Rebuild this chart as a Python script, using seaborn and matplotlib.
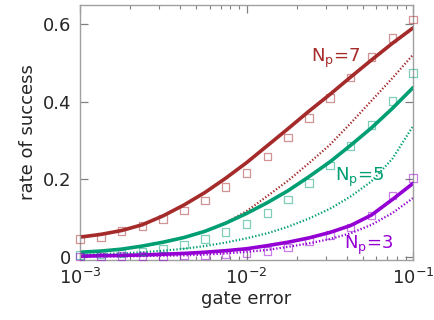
import numpy as np
import pandas as pd
import matplotlib
matplotlib.use("Agg")
import matplotlib.pyplot as plt
import seaborn as sns
from matplotlib.ticker import LogLocator, NullFormatter

# gate error: 17 log-spaced samples from 1e-3 to 1e-1
gate_error = [1.0e-3, 1.334e-3, 1.778e-3, 2.371e-3, 3.162e-3, 4.217e-3, 5.623e-3, 7.499e-3,
              1.0e-2, 1.334e-2, 1.778e-2, 2.371e-2, 3.162e-2, 4.217e-2, 5.623e-2, 7.499e-2, 1.0e-1]

# N_p = 7
sim7 = [0.046, 0.052, 0.067, 0.079, 0.098, 0.120, 0.146, 0.180, 0.217, 0.259, 0.308, 0.358,
        0.410, 0.463, 0.515, 0.565, 0.612]
fit7 = [0.051, 0.058, 0.068, 0.083, 0.106, 0.134, 0.166, 0.203, 0.243, 0.287, 0.331, 0.376,
        0.419, 0.464, 0.508, 0.551, 0.591]
alt7 = [0.012, 0.015, 0.020, 0.028, 0.038, 0.050, 0.066, 0.088, 0.118, 0.157, 0.197, 0.242,
        0.289, 0.345, 0.403, 0.461, 0.522]

# N_p = 5
sim5 = [0.005, 0.006, 0.009, 0.014, 0.022, 0.032, 0.046, 0.064, 0.085, 0.113, 0.148, 0.190,
        0.236, 0.286, 0.340, 0.402, 0.474]
fit5 = [0.012, 0.015, 0.020, 0.028, 0.038, 0.050, 0.066, 0.087, 0.112, 0.140, 0.171, 0.207,
        0.245, 0.288, 0.333, 0.383, 0.437]
alt5 = [0.005, 0.007, 0.009, 0.012, 0.016, 0.021, 0.028, 0.037, 0.048, 0.061, 0.078, 0.099,
        0.124, 0.156, 0.195, 0.253, 0.338]

# N_p = 3
sim3 = [0.001, 0.001, 0.002, 0.002, 0.003, 0.004, 0.005, 0.006, 0.009, 0.016, 0.024, 0.041,
        0.057, 0.076, 0.107, 0.158, 0.203]
fit3 = [0.002, 0.003, 0.004, 0.005, 0.007, 0.009, 0.012, 0.016, 0.021, 0.029, 0.038, 0.049,
        0.063, 0.081, 0.108, 0.148, 0.190]
alt3 = [0.000, 0.001, 0.001, 0.002, 0.003, 0.004, 0.006, 0.009, 0.013, 0.018, 0.026, 0.035,
        0.046, 0.061, 0.083, 0.113, 0.152]

labels = ["N$_\\mathrm{p}$=7", "N$_\\mathrm{p}$=5", "N$_\\mathrm{p}$=3"]
colors = ["#a52a2a", "#009e73", "#9400d3"]

sns.set_theme(style="white")
plt.rcParams['font.family'] = ['DejaVu Sans']
plt.rcParams['mathtext.default'] = 'regular'
plt.rcParams['lines.solid_joinstyle'] = 'round'
plt.rcParams['lines.solid_capstyle'] = 'round'

fig = plt.figure(figsize=(4.34, 3.2), dpi=100)
ax = fig.add_axes([0.184, 0.1875, 0.768, 0.797])

series = [(sim7, fit7, alt7), (sim5, fit5, alt5), (sim3, fit3, alt3)]
for (sim, fit, alt), col in zip(series, colors):
    df = pd.DataFrame({"x": gate_error, "sim": sim, "fit": fit, "alt": alt})
    sns.lineplot(data=df, x="x", y="alt", ax=ax, color=col, lw=1.6,
                 linestyle=(0, (0.6, 0.9)))
    sns.lineplot(data=df, x="x", y="fit", ax=ax, color=col, lw=2.6)
    sns.scatterplot(data=df, x="x", y="sim", ax=ax, marker="s", s=30,
                    facecolor="none", edgecolor=col, linewidth=0.9, alpha=0.5,
                    clip_on=False, zorder=5)

ax.set_xscale("log")
ax.set_xlim(1e-3, 1e-1)
ax.set_ylim(-0.008, 0.65)
ax.set_yticks([0, 0.2, 0.4, 0.6])
ax.set_yticklabels(["0", "0.2", "0.4", "0.6"])
ax.set_xticks([1e-3, 1e-2, 1e-1])
ax.set_xticklabels(["10$^{-3}$", "10$^{-2}$", "10$^{-1}$"])
ax.xaxis.set_minor_locator(LogLocator(base=10, subs=np.arange(2, 10)))
ax.xaxis.set_minor_formatter(NullFormatter())

ax.tick_params(axis="both", which="major", direction="in", length=6, width=0.9,
               color="#808080", labelsize=13, top=True, right=True, bottom=True, left=True,
               pad=6)
ax.tick_params(axis="x", which="minor", direction="in", length=3, width=0.8,
               color="#808080", top=True, bottom=True)
for sp in ax.spines.values():
    sp.set_color("#a0a0a0")
    sp.set_linewidth(1.0)

ax.set_xlabel("gate error", fontsize=13, labelpad=1)
ax.set_ylabel("rate of success", fontsize=13, labelpad=4)

ax.text(0.0245, 0.482, labels[0], color=colors[0], fontsize=13, ha="left", va="bottom")
ax.text(0.034, 0.175, labels[1], color=colors[1], fontsize=13, ha="left", va="bottom")
ax.text(0.0385, 0.0, labels[2], color=colors[2], fontsize=13, ha="left", va="bottom")

fig.savefig("out.png", dpi=100)
